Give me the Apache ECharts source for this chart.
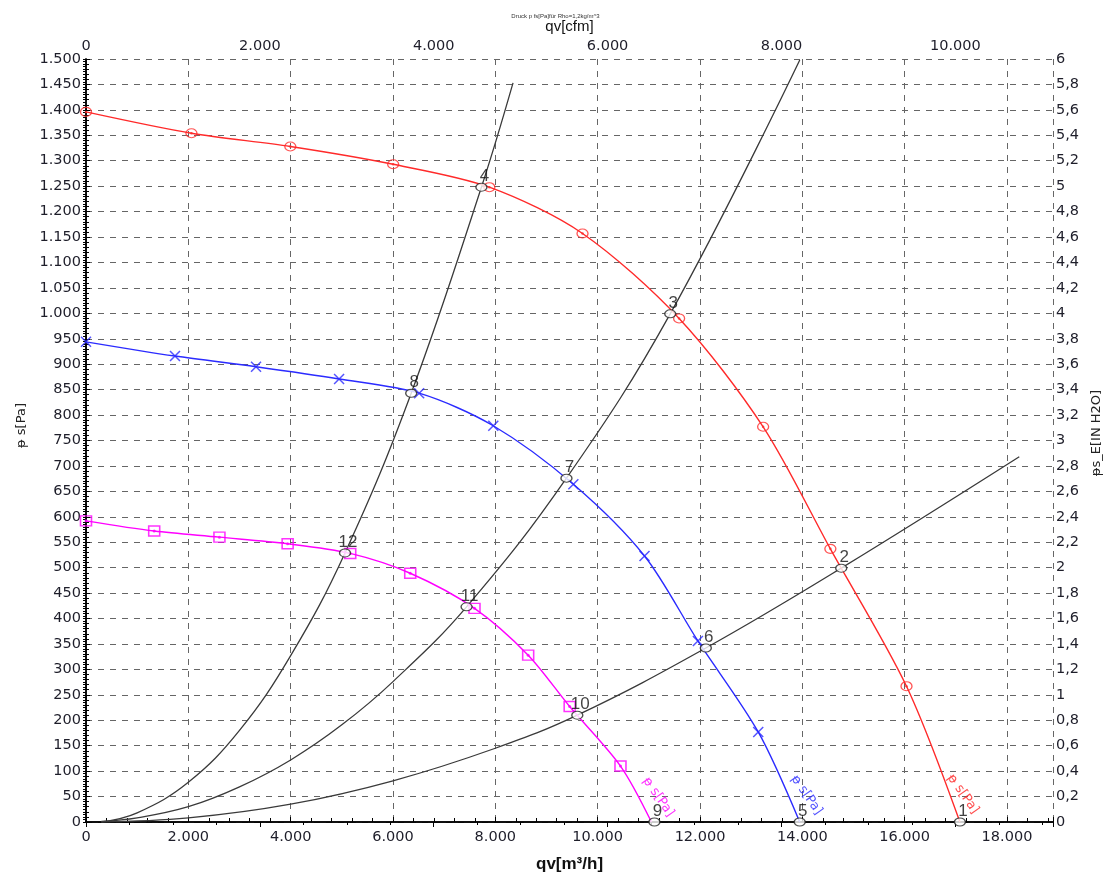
<!DOCTYPE html>
<html>
<head>
<meta charset="utf-8">
<script src="https://cdn.jsdelivr.net/npm/echarts@6/dist/echarts.min.js"></script>
<style>html,body{margin:0;padding:0;background:#fff;overflow:hidden;width:1111px;height:881px}#c{position:absolute;left:0;top:0;width:1111px;height:881px}</style>
</head>
<body>
<div id="c"></div>
<script>
// ---- data (qv in m3/h, p in Pa) ----
const xMax = 18900;            // m3/h at right edge of plot
const cfmFactor = 1.699;       // m3/h per cfm
const yMax = 1500;             // Pa
const yMaxInH2O = 6;

// fan curves: marker points
const redMarkers = [[0,1396],[2061,1354],[3993,1328],[6003,1293],[7883,1248],[9704,1157],[11592,990],[13234,777],[14548,537],[16036,267]];
const redEnd = [17080,0];
const blueMarkers = [[0,944],[1739,916],[3323,895],[4946,871],[6511,843],[7960,779],[9525,664],[10916,523],[11959,356],[13138,177]];
const blueEnd = [13949,0];
const magentaMarkers = [[0,592],[1333,572],[2608,560],[3941,547],[5164,528],[6337,489],[7593,420],[8642,328],[9453,227],[10446,110]];
const magentaEnd = [11051,0];

// system curves
const sysA = [[300,0],[1000,18],[2000,78],[3000,180],[4000,327],[5062,529],[6356,843],[7728,1248],[8346,1453]];
const sysB = [[300,1],[1000,8],[2000,30],[3000,69],[4000,122],[5000,191],[6000,276],[7438,423],[9390,676],[11418,999],[13950,1498]];
const sysC = [[300,0],[2000,8],[4000,35],[6000,81],[8000,145],[9602,210],[12114,342],[14760,499],[18240,718]];

// operating points 1..12
const opNames = ['1','2','3','4','5','6','7','8','9','10','11','12'];
const opPoints = [[17080,0],[14760,499],[11418,999],[7728,1248],[13949,0],[12114,342],[9390,676],[6356,843],[11109,0],[9602,210],[7438,423],[5062,529]];

// curve text anchors
const curveLabelText = 'ᵽ s[Pa]';
const curveLabelAnchors = [[11186,49],[14084,53],[17140,55]];
const curveLabelColors = ['#ff00ff','#2b2bff','#ff2020'];

const RED = '#ff2a2a', BLUE = '#2b2bff', MAG = '#ff00ff', BLK = '#3a3a3a';

function fmt(v){ return String(Math.round(v)).replace(/\B(?=(\d{3})+(?!\d))/g,'.'); }
function fmtR(v){ return String(Math.round(v*10)/10).replace('.',','); }

const labelFont = {fontFamily:'DejaVu Sans', fontSize:14.5, color:'#1e1e2a'};
const dashLine = {show:true, lineStyle:{type:[6,6], color:'#666', width:1}};
const axLine = {show:true, lineStyle:{color:'#000', width:1.5}};

const chart = echarts.init(document.getElementById('c'), null, {width:1111, height:881});

function fanLine(markers, end, color){
  return {type:'line', data: markers.concat([end]), smooth:0.3, symbol:'none',
          lineStyle:{color:color, width:1.4}, z:3};
}
function markerSeries(markers, symbol, size, color, bw){
  return {type:'scatter', data: markers, symbol:symbol, symbolSize:size,
          itemStyle:{color:'rgba(0,0,0,0)', borderColor:color, borderWidth:bw}, z:4};
}
function dotSeries(markers, color, size){
  return {type:'scatter', data: markers, symbol:'circle', symbolSize:size,
          itemStyle:{color:color}, z:4};
}
function sysLine(d){
  return {type:'line', data:d, smooth:0.4, symbol:'none', lineStyle:{color:BLK, width:1.3}, z:2};
}

const option = {
  animation:false,
  backgroundColor:'#fff',
  title:{text:'Druck p fs[Pa]für Rho=1,2kg/m^3', left:'center', top:8,
         textStyle:{fontSize:6, fontWeight:'normal', color:'#333', fontFamily:'Liberation Sans'}},
  grid:{left:86, right:47, top:59, bottom:59, containLabel:false},
  xAxis:[
    {type:'value', position:'bottom', min:0, max:xMax, interval:2000,
     axisLine:axLine, axisTick:{show:true, inside:true, length:5, lineStyle:{color:'#000'}},
     minorTick:{show:true, splitNumber:5, length:4, lineStyle:{color:'#000'}},
     splitLine:dashLine,
     axisLabel:Object.assign({formatter:fmt, showMaxLabel:false, margin:8}, labelFont),
     name:'qv[m³/h]', nameLocation:'middle', nameGap:34,
     nameTextStyle:{fontFamily:'Liberation Sans', fontSize:17, fontWeight:'bold', color:'#111'}},
    {type:'value', position:'top', min:0, max:xMax/cfmFactor, interval:2000,
     axisLine:axLine, axisTick:{show:true, inside:true, length:5, lineStyle:{color:'#000'}},
     minorTick:{show:true, splitNumber:4, length:3, lineStyle:{color:'#000'}},
     splitLine:{show:false},
     axisLabel:Object.assign({formatter:fmt, showMaxLabel:false, margin:5}, labelFont),
     name:'qv[cfm]', nameLocation:'middle', nameGap:22,
     nameTextStyle:{fontFamily:'Liberation Sans', fontSize:15, color:'#111'}}
  ],
  yAxis:[
    {type:'value', position:'left', min:0, max:yMax, interval:50,
     axisLine:axLine, axisTick:{show:true, inside:false, length:3, lineStyle:{color:'#000'}},
     minorTick:{show:true, splitNumber:10, length:3, lineStyle:{color:'#000'}},
     splitLine:dashLine,
     axisLabel:Object.assign({formatter:fmt, margin:5}, labelFont),
     name:'ᵽ s[Pa]', nameLocation:'middle', nameGap:58, nameRotate:90,
     nameTextStyle:{fontFamily:'DejaVu Sans', fontSize:13, color:'#222', padding:[0,0,0,30]}},
    {type:'value', position:'right', min:0, max:yMaxInH2O, interval:0.2,
     axisLine:axLine, axisTick:{show:true, inside:false, length:4, lineStyle:{color:'#000'}},
     minorTick:{show:true, splitNumber:5, length:3, lineStyle:{color:'#000'}},
     splitLine:{show:false},
     axisLabel:Object.assign({formatter:fmtR, margin:3}, labelFont),
     name:'ᵽs_E[IN H2O]', nameLocation:'middle', nameGap:30, nameRotate:90,
     nameTextStyle:{fontFamily:'DejaVu Sans', fontSize:13, color:'#222', padding:[0,0,0,15]}}
  ],
  series:[
    sysLine(sysA), sysLine(sysB), sysLine(sysC),
    fanLine(redMarkers, redEnd, RED),
    fanLine(blueMarkers, blueEnd, BLUE),
    fanLine(magentaMarkers, magentaEnd, MAG),
    markerSeries(redMarkers, 'circle', [11,9], RED, 1.2),
    dotSeries(redMarkers, RED, 2.5),
    markerSeries(blueMarkers, 'path://M0,0L10,10M10,0L0,10', 10, BLUE, 1.5),
    markerSeries(magentaMarkers, 'rect', [11,10], MAG, 1.5),
    dotSeries(magentaMarkers, MAG, 3),
    {type:'scatter', data: opPoints.map((p,i)=>({name:opNames[i], value:p})),
     symbol:'circle', symbolSize:[11,8],
     itemStyle:{color:'#fff', borderColor:'#222', borderWidth:1.2}, z:6,
     label:{show:true, formatter:'{b}', position:'top', distance:0, offset:[3,2],
            fontFamily:'Liberation Sans', fontSize:17, color:'#111'}},
    {type:'scatter', data: curveLabelAnchors.map((p,i)=>({value:p,
       label:{color:curveLabelColors[i]}})),
     symbolSize:0, z:7, silent:true,
     label:{show:true, formatter:curveLabelText, position:'inside', rotate:-55,
            fontFamily:'DejaVu Sans', fontSize:13}}
  ]
};
chart.setOption(option);
</script>
</body>
</html>
